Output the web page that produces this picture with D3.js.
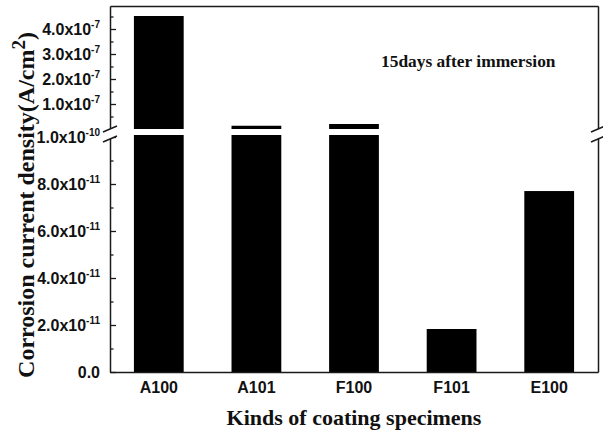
<!DOCTYPE html>
<html lang="en">
<head>
    <meta charset="utf-8">
    <title>Corrosion current density</title>
    <script src="https://d3js.org/d3.v7.min.js"></script>
    <style>
        * {
            margin: 0;
            padding: 0;
        }
        body {
            background-color: white;
            width: 603px;
            height: 437px;
            overflow: hidden;
        }
        .tick-label {
            font-family: "Liberation Sans", Arial, sans-serif;
            font-weight: bold;
            font-size: 16px;
            fill: #111;
        }
        .serif {
            font-family: "Liberation Serif", "Times New Roman", serif;
            font-weight: bold;
            fill: #111;
        }
    </style>
</head>
<body>
<div id="container"></div>
<script>
    // chart data
    const specimens = ["A100", "A101", "F100", "F101", "E100"];
    const currentDensity = [4.52e-7, 1.3e-8, 2.0e-8, 1.83e-11, 7.7e-11];

    // broken y axis: lower and upper segments
    const lowerMajorTicks = [0, 2e-11, 4e-11, 6e-11, 8e-11, 1e-10];
    const lowerMinorTicks = [1e-11, 3e-11, 5e-11, 7e-11, 9e-11];
    const upperMajorTicks = [1e-7, 2e-7, 3e-7, 4e-7];
    const upperMinorTicks = [0.5e-7, 1.5e-7, 2.5e-7, 3.5e-7, 4.5e-7];

    const w = 603;
    const h = 437;
    const plotLeft = 110, plotRight = 598, plotTop = 6, plotBottom = 372;
    const upperBottom = 129, lowerTop = 135;
    const lowerMax = 1.0085e-10;
    const ink = "#1a1a1a";

    const svg = d3.select("#container")
        .append("svg")
        .attr("width", w)
        .attr("height", h);

    const xScale = d3.scaleBand()
        .domain(specimens)
        .range([plotLeft, plotRight])
        .paddingInner(0.49)
        .paddingOuter(0.245);

    const yLower = d3.scaleLinear()
        .domain([0, lowerMax])
        .range([plotBottom, lowerTop]);

    const yUpper = d3.scaleLinear()
        .domain([0, 4.92e-7])
        .range([upperBottom, plotTop]);

    const rows = specimens.map((s, i) => ({ name: s, value: currentDensity[i] }));

    // lower parts of the bars
    svg.append("g")
        .selectAll("rect")
        .data(rows)
        .enter()
        .append("rect")
        .attr("x", d => xScale(d.name))
        .attr("width", xScale.bandwidth())
        .attr("y", d => yLower(Math.min(d.value, lowerMax)))
        .attr("height", d => plotBottom - yLower(Math.min(d.value, lowerMax)))
        .attr("fill", "black");

    // upper parts of the bars
    svg.append("g")
        .selectAll("rect")
        .data(rows.filter(d => d.value > lowerMax))
        .enter()
        .append("rect")
        .attr("x", d => xScale(d.name))
        .attr("width", xScale.bandwidth())
        .attr("y", d => yUpper(d.value))
        .attr("height", d => yUpper(0) - yUpper(d.value))
        .attr("fill", "black");

    const sciLabel = (sel, v) => {
        sel.text(null);
        if (v === 0) {
            sel.append("tspan").text("0.0");
            return;
        }
        const exp = Math.floor(Math.log10(v) + 1e-9);
        const mant = v / Math.pow(10, exp);
        sel.append("tspan").text(mant.toFixed(1) + "x10");
        sel.append("tspan")
            .attr("font-size", "10px")
            .attr("dy", "-7")
            .text(String(exp));
    };

    const drawAxis = (scale, major, minor) => {
        const g = svg.append("g")
            .attr("transform", `translate(${plotLeft}, 0)`)
            .call(d3.axisLeft(scale).tickValues(major).tickSizeInner(-6).tickSizeOuter(0).tickPadding(10));
        g.select(".domain").attr("stroke", ink).attr("stroke-width", 1.5);
        g.selectAll(".tick line").attr("stroke", ink).attr("stroke-width", 1.3);
        g.selectAll(".tick text")
            .attr("class", "tick-label")
            .each(function(d) { sciLabel(d3.select(this), d); });
        g.attr("font-family", null).attr("font-size", null);

        const m = svg.append("g")
            .attr("transform", `translate(${plotLeft}, 0)`)
            .call(d3.axisLeft(scale).tickValues(minor).tickSizeInner(-3.5).tickSizeOuter(0).tickFormat(""));
        m.select(".domain").remove();
        m.selectAll(".tick line").attr("stroke", ink).attr("stroke-width", 1.3);

        const r = svg.append("g")
            .attr("transform", `translate(${plotRight}, 0)`)
            .call(d3.axisRight(scale).tickValues([]).tickSizeOuter(0));
        r.select(".domain").attr("stroke", ink).attr("stroke-width", 1.5);
    };

    drawAxis(yLower, lowerMajorTicks, lowerMinorTicks);
    drawAxis(yUpper, upperMajorTicks, upperMinorTicks);

    // x axis (bottom) and top frame
    const xAxis = svg.append("g")
        .attr("transform", `translate(0, ${plotBottom})`)
        .call(d3.axisBottom(xScale).tickSize(0).tickPadding(10));
    xAxis.attr("font-family", null).attr("font-size", null);
    xAxis.select(".domain").attr("stroke", ink).attr("stroke-width", 1.5);
    xAxis.selectAll(".tick text").attr("class", "tick-label");

    const topAxis = svg.append("g")
        .attr("transform", `translate(0, ${plotTop})`)
        .call(d3.axisTop(xScale).tickValues([]).tickSizeOuter(0));
    topAxis.select(".domain").attr("stroke", ink).attr("stroke-width", 1.5);

    // axis break marks
    [plotLeft, plotRight].forEach(x => {
        svg.append("polygon")
            .attr("points", `${x - 7},${upperBottom + 3} ${x + 7},${upperBottom - 3} ${x + 7},${lowerTop + 1} ${x - 7},${lowerTop + 7}`)
            .attr("fill", "white");
        [upperBottom, lowerTop + 4].forEach(y => {
            svg.append("line")
                .attr("x1", x - 7).attr("y1", y + 3)
                .attr("x2", x + 7).attr("y2", y - 3)
                .attr("stroke", ink)
                .attr("stroke-width", 1.5);
        });
    });

    // annotation
    svg.append("text")
        .attr("class", "serif")
        .attr("x", 381)
        .attr("y", 67)
        .attr("font-size", "17.4px")
        .text("15days after immersion");

    // axis titles
    svg.append("text")
        .attr("class", "serif")
        .attr("x", (plotLeft + plotRight) / 2)
        .attr("y", 425)
        .attr("text-anchor", "middle")
        .attr("font-size", "22px")
        .text("Kinds of coating specimens");

    const yTitle = svg.append("text")
        .attr("class", "serif")
        .attr("transform", `translate(34, 205) rotate(-90)`)
        .attr("text-anchor", "middle")
        .attr("font-size", "24px");
    yTitle.append("tspan").text("Corrosion current density(A/cm");
    yTitle.append("tspan").attr("font-size", "19px").attr("dy", "-9").text("2");
    yTitle.append("tspan").attr("dy", "9").text(")");
</script>
</body>
</html>
